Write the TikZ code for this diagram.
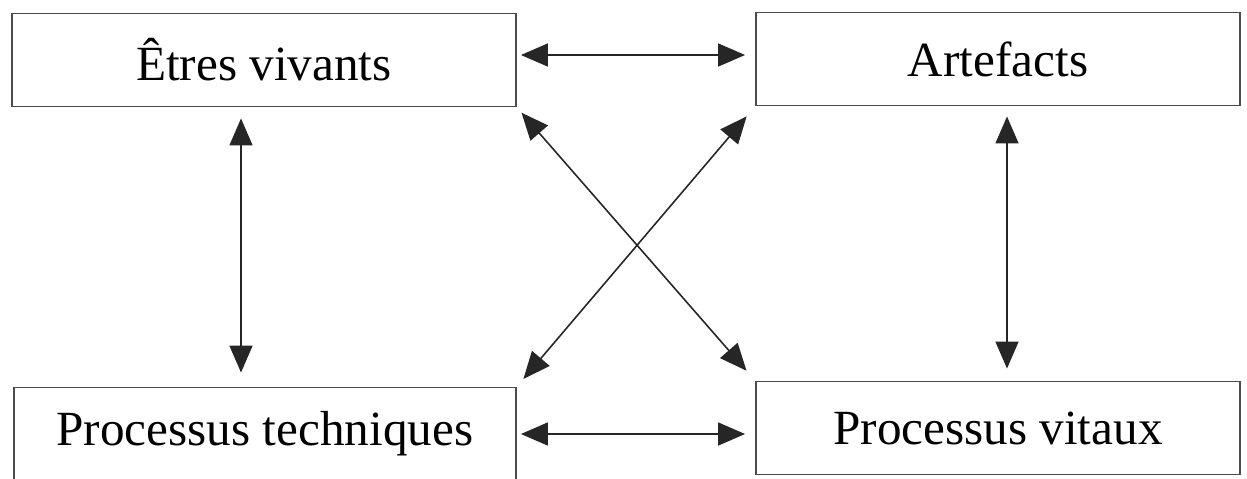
\documentclass[tikz,border=0pt]{standalone}
\usepackage{fontspec}
\setmainfont{Liberation Serif}
\usetikzlibrary{arrows.meta, positioning}

\begin{document}
\begin{tikzpicture}
[x=0.02cm, y=-0.02cm,
   <->/.style={line width=0.9pt, draw=black!85, arrows={Triangle[length=0.54cm, width=0.46cm]-Triangle[length=0.54cm, width=0.46cm]}},
   box/.style={shape=rectangle, draw=black!70, line width=1.1pt, inner sep=0pt,
     minimum height=1.86cm, font=\fontsize{28}{34}\selectfont}]
\useasboundingbox (0, 0) rectangle (1247, 478);
\node[box, minimum width=10.08cm] (EV) at (264, 60) {Êtres vivants};
\node[box, minimum width=9.68cm] (Art) at (998, 59) {Artefacts};
\node[box, minimum width=10.04cm] (PT) at (265, 434) {Processus techniques};
\node[box, minimum width=9.68cm] (PV) at (998, 428) {Processus vitaux};
\draw [<->, shorten <=0.08cm, shorten >=0.2cm] ([yshift=0.1cm]EV.east) -- ([yshift=0.1cm]EV.east -| Art.west);
\draw [<->, shorten <=0.08cm, shorten >=0.2cm] (PT.east) -- (PT.east -| PV.west);
\draw [<->, shorten <=0.22cm, shorten >=0.28cm] ([xshift=-0.46cm]EV.south) -- ([xshift=-0.46cm]EV.south |- PT.north);
\draw [<->, shorten <=0.2cm, shorten >=0.24cm] ([xshift=0.18cm]Art.south) -- ([xshift=0.18cm]Art.south |- PV.north);
\draw [<->, shorten <=0.14cm, shorten >=0.26cm] (EV.south east) -- (PV.north west);
\draw [<->, shorten <=0.26cm, shorten >=0.2cm] (Art.south west) -- (PT.north east);
\end{tikzpicture}
\end{document}
